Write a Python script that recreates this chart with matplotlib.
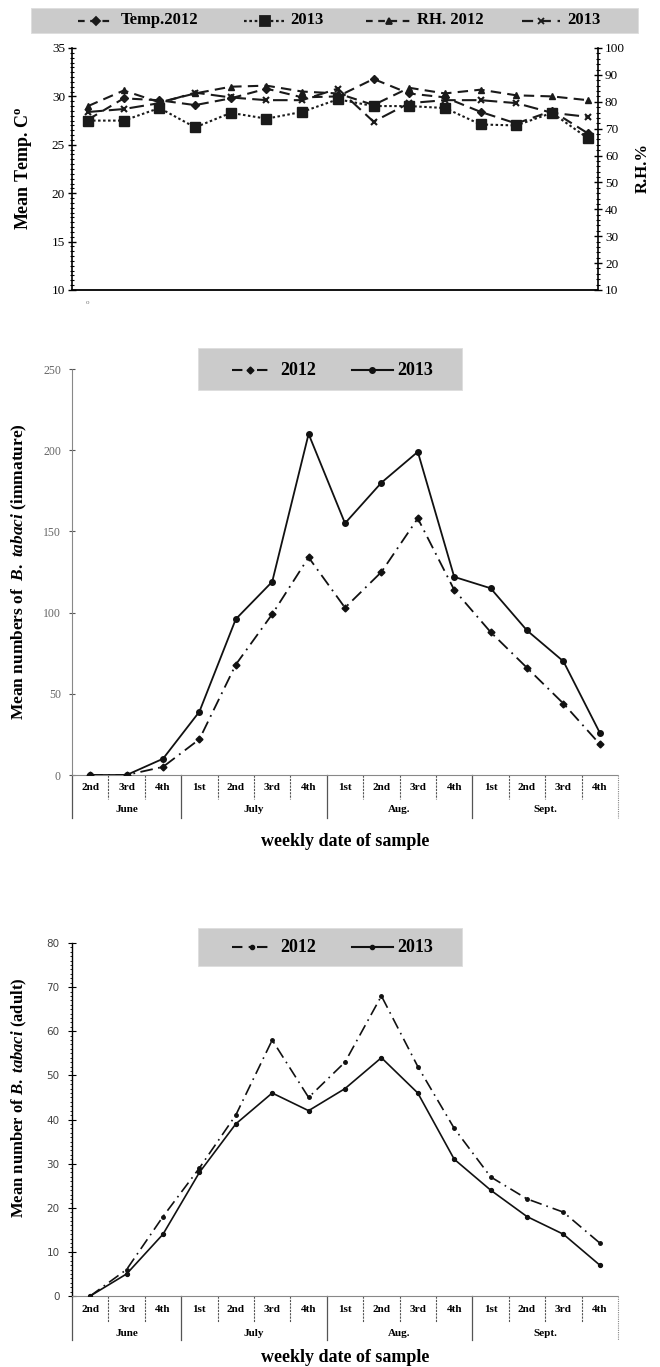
import matplotlib
matplotlib.use('Agg')
import matplotlib.pyplot as plt
from matplotlib.patches import Rectangle
from matplotlib.lines import Line2D
from matplotlib.ticker import MultipleLocator

# ---------------- data ----------------
weeks = ["2nd", "3rd", "4th", "1st", "2nd", "3rd", "4th", "1st", "2nd", "3rd", "4th",
         "1st", "2nd", "3rd", "4th"]
months = ["June", "July", "Aug.", "Sept."]
month_sizes = [3, 4, 4, 4]

temp_2012 = [27.6, 29.8, 29.6, 29.1, 29.8, 30.8, 29.9, 30.0, 31.8, 30.3, 29.9, 28.4, 27.2, 28.5, 26.2]
temp_2013 = [27.5, 27.5, 28.8, 26.8, 28.3, 27.7, 28.4, 29.7, 29.0, 29.0, 28.8, 27.1, 27.0, 28.3, 25.7]
rh_2012 = [78.4, 84.2, 79.8, 83.1, 85.6, 86.0, 83.8, 83.1, 78.8, 85.2, 83.1, 84.5, 82.4, 82.0, 80.6]
rh_2013 = [76.2, 77.3, 79.5, 83.4, 81.6, 80.6, 80.6, 84.9, 72.6, 79.5, 80.6, 80.6, 79.5, 75.9, 74.4]

imm_2012 = [0, 0, 5, 22, 68, 99, 134, 103, 125, 158, 114, 88, 66, 44, 19]
imm_2013 = [0, 0, 10, 39, 96, 119, 210, 155, 180, 199, 122, 115, 89, 70, 26]

adult_2012 = [0, 6, 18, 29, 41, 58, 45, 53, 68, 52, 38, 27, 22, 19, 12]
adult_2013 = [0, 5, 14, 28, 39, 46, 42, 47, 54, 46, 31, 24, 18, 14, 7]

# ---------------- setup ----------------
SERIF = ['Liberation Serif', 'DejaVu Serif']
plt.rcParams['font.family'] = SERIF
plt.rcParams['mathtext.fontset'] = 'custom'
plt.rcParams['mathtext.rm'] = 'Liberation Serif:bold'
plt.rcParams['mathtext.it'] = 'Liberation Serif:italic:bold'
plt.rcParams['mathtext.bf'] = 'Liberation Serif:bold'

W, H = 660, 1367
fig = plt.figure(figsize=(W / 100, H / 100), dpi=100)
fig.patch.set_facecolor('white')


def fx(px):
    return px / W


def fy(py):
    return 1 - py / H


def add_axes(left, right, top, bottom):
    return fig.add_axes([fx(left), fy(bottom), (right - left) / W, (bottom - top) / H])


x = list(range(len(weeks)))

# ================= TOP PANEL =================
ax1 = add_axes(72, 598, 48, 290)
ax1.set_xlim(-0.45, 14.29)
ax1.set_ylim(10, 35)
ax2 = ax1.twinx()
ax2.set_ylim(10, 100)

lc = '#1a1a1a'
ax1.plot(x, temp_2012, color=lc, lw=1.5, ls=(0, (5, 3)), marker='D', ms=4.5, zorder=4)
ax1.plot(x, temp_2013, color=lc, lw=1.5, ls=(0, (1.2, 1.2)), marker='s', ms=7.5, zorder=5)
ax2.plot(x, rh_2012, color=lc, lw=1.5, ls=(0, (5, 3)), marker='^', ms=5, zorder=4)
ax2.plot(x, rh_2013, color=lc, lw=1.5, ls=(0, (7, 3)), marker='x', ms=4, mew=1.5, zorder=4)

for a in (ax1, ax2):
    a.spines['top'].set_visible(False)
    a.tick_params(axis='x', which='both', bottom=False, labelbottom=False)
ax1.spines['right'].set_visible(False)
ax2.spines['left'].set_visible(False)
ax2.spines['bottom'].set_visible(False)
ax1.spines['bottom'].set_linestyle((0, (1, 1)))
ax1.spines['bottom'].set_linewidth(1.3)
ax1.spines['left'].set_linewidth(1.2)
ax2.spines['right'].set_linewidth(1.2)

ax1.set_yticks([10, 15, 20, 25, 30, 35])
ax1.yaxis.set_minor_locator(MultipleLocator(0.5))
ax1.tick_params(axis='y', which='major', direction='inout', length=6, width=1, labelsize=9.5, pad=2)
ax1.tick_params(axis='y', which='minor', direction='inout', length=3, width=0.8)
ax2.set_yticks(list(range(10, 101, 10)))
ax2.yaxis.set_minor_locator(MultipleLocator(2))
ax2.tick_params(axis='y', which='major', direction='inout', length=6, width=1, labelsize=9.5, pad=2)
ax2.tick_params(axis='y', which='minor', direction='inout', length=3, width=0.8)

fig.text(fx(24), fy(168), r"Mean Temp. C$^{\mathrm{o}}$", rotation=90, ha='center', va='center',
         fontsize=13, fontweight='bold')
fig.text(fx(643), fy(168), "R.H.%", rotation=90, ha='center', va='center',
         fontsize=12, fontweight='bold')
fig.text(fx(88), fy(302), "o", ha='center', va='center', fontsize=5, color='#777777')

# top legend
fig.patches.append(Rectangle((fx(31), fy(33)), (638 - 31) / W, (33 - 8) / H,
                             transform=fig.transFigure, facecolor='#cbcbcb', edgecolor='#dddddd',
                             lw=0.6, zorder=0))
ly = fy(20.5)
leg_items = [
    (78, 114, (0, (3, 2.5)), 'D', 4, "Temp.2012", 121),
    (244, 285, (0, (1.2, 1.2)), 's', 7, "2013", 290),
    (366, 411, (0, (3, 2.5)), '^', 4.5, "RH. 2012", 417),
    (522, 560, (0, (5, 3)), 'x', 4, "2013", 567),
]
for x0, x1, ls, mk, ms, lab, tx in leg_items:
    fig.lines.append(Line2D([fx(x0), fx(x1)], [ly, ly], transform=fig.transFigure,
                            color=lc, lw=1.6, ls=ls))
    fig.lines.append(Line2D([fx((x0 + x1) / 2)], [ly], transform=fig.transFigure,
                            color=lc, marker=mk, ms=ms, mew=1.3, ls='none'))
    fig.text(fx(tx), ly, lab, ha='left', va='center', fontsize=12, fontweight='bold')


# ================= table under x axis =================
def draw_table(ax, bottom_px, height_px, week_y, month_y, inner_end, sep_end, month_fs=8):
    tr = ax.get_xaxis_transform()

    def a(ypx):
        return (bottom_px - ypx) / height_px

    for i, w in enumerate(weeks):
        ax.text(i, a(week_y), w, transform=tr, ha='center', va='center', fontsize=8,
                fontweight='bold', clip_on=False)
    bounds = []
    c = 0
    for s in month_sizes:
        bounds.append(c - 0.5)
        c += s
    for i in range(len(weeks) - 1):
        xb = i + 0.5
        if (xb in bounds):
            continue
        ax.add_line(Line2D([xb, xb], [a(bottom_px), a(inner_end)], transform=tr, color='#555555',
                           lw=0.8, ls=(0, (2, 1)), clip_on=False))
    for xb in bounds:
        ax.add_line(Line2D([xb, xb], [a(bottom_px), a(sep_end)], transform=tr, color='#555555',
                           lw=0.9, clip_on=False))
    ax.add_line(Line2D([14.5, 14.5], [a(bottom_px), a(sep_end)], transform=tr, color='#888888',
                       lw=0.8, ls=(0, (1, 1)), clip_on=False))
    c = 0
    for m, s in zip(months, month_sizes):
        ax.text(c + (s - 1) / 2, a(month_y), m, transform=tr, ha='center', va='center',
                fontsize=month_fs, fontweight='bold', clip_on=False)
        c += s


# ================= MIDDLE PANEL =================
mb, mt = 775, 369
ax3 = add_axes(72, 618, mt, mb)
ax3.set_xlim(-0.5, 14.5)
ax3.set_ylim(0, 250)
ax3.plot(x, imm_2012, color='#111111', lw=1.3, ls=(0, (7, 3, 1, 3)), marker='D', ms=3.5, zorder=3)
ax3.plot(x, imm_2013, color='#111111', lw=1.3, ls='-', marker='o', ms=4, zorder=4)
for s in ('top', 'right'):
    ax3.spines[s].set_visible(False)
ax3.spines['left'].set_color('#888888')
ax3.spines['left'].set_linestyle((0, (1, 1)))
ax3.spines['bottom'].set_color('#888888')
ax3.spines['bottom'].set_linestyle((0, (1, 1)))
ax3.set_xticks([])
ax3.set_yticks([0, 50, 100, 150, 200, 250])
ax3.tick_params(axis='y', direction='inout', length=4, width=0.8, color='#555555',
                labelsize=8.5, labelcolor='#666666', pad=6)
draw_table(ax3, mb, mb - mt, 787, 810, 799, 818)
fig.text(fx(345), fy(841), "weekly date of sample", ha='center', va='center', fontsize=13,
         fontweight='bold')
fig.text(fx(19), fy(572), r"Mean numbers of  $\mathit{B.\ tabaci}$ (immature)", rotation=90,
         ha='center', va='center', fontsize=12.5, fontweight='bold')

# middle legend
fig.patches.append(Rectangle((fx(198), fy(390)), (462 - 198) / W, (390 - 348) / H,
                             transform=fig.transFigure, facecolor='#cbcbcb', edgecolor='#dddddd',
                             lw=0.6, zorder=0))
ly = fy(370)
fig.lines.append(Line2D([fx(232), fx(270)], [ly, ly], transform=fig.transFigure, color='#111111',
                        lw=1.5, ls=(0, (5, 3, 1, 3)), marker=None))
fig.lines.append(Line2D([fx(250)], [ly], transform=fig.transFigure, color='#111111', marker='D',
                        ms=3.5, ls='none'))
fig.text(fx(280), ly, "2012", ha='left', va='center', fontsize=13, fontweight='bold')
fig.lines.append(Line2D([fx(352), fx(393)], [ly, ly], transform=fig.transFigure, color='#111111',
                        lw=1.5, ls='-'))
fig.lines.append(Line2D([fx(372)], [ly], transform=fig.transFigure, color='#111111', marker='o',
                        ms=4, ls='none'))
fig.text(fx(397), ly, "2013", ha='left', va='center', fontsize=13, fontweight='bold')

# ================= BOTTOM PANEL =================
bb, bt = 1296, 943
ax4 = add_axes(72, 618, bt, bb)
ax4.set_xlim(-0.5, 14.5)
ax4.set_ylim(0, 80)
ax4.plot(x, adult_2012, color='#111111', lw=1.2, ls=(0, (7, 3, 1, 3)), marker='o', ms=2.5, zorder=3)
ax4.plot(x, adult_2013, color='#111111', lw=1.2, ls='-', marker='o', ms=2.8, zorder=4)
for s in ('top', 'right'):
    ax4.spines[s].set_visible(False)
ax4.spines['left'].set_linewidth(1.0)
ax4.spines['bottom'].set_color('#888888')
ax4.spines['bottom'].set_linestyle((0, (1, 1)))
ax4.set_xticks([])
ax4.set_yticks(list(range(0, 81, 10)))
ax4.yaxis.set_minor_locator(MultipleLocator(1))
ax4.tick_params(axis='y', which='major', direction='inout', length=6, width=0.8,
                labelsize=7.5, labelcolor='#444444', pad=6)
ax4.tick_params(axis='y', which='minor', direction='out', length=1.5, width=0.6)
for t in ax4.get_yticklabels():
    t.set_family('DejaVu Sans')
draw_table(ax4, bb, bb - bt, 1310, 1333, 1322, 1340)
fig.text(fx(345), fy(1357), "weekly date of sample", ha='center', va='center', fontsize=13,
         fontweight='bold')
fig.text(fx(19), fy(1098), r"Mean number of $\mathit{B.\ tabaci}$ (adult)", rotation=90,
         ha='center', va='center', fontsize=12, fontweight='bold')

# bottom legend
fig.patches.append(Rectangle((fx(198), fy(966)), (462 - 198) / W, (966 - 928) / H,
                             transform=fig.transFigure, facecolor='#cbcbcb', edgecolor='#dddddd',
                             lw=0.6, zorder=0))
ly = fy(947)
fig.lines.append(Line2D([fx(232), fx(270)], [ly, ly], transform=fig.transFigure, color='#111111',
                        lw=1.5, ls=(0, (5, 3, 1, 3))))
fig.lines.append(Line2D([fx(252)], [ly], transform=fig.transFigure, color='#111111', marker='o',
                        ms=3, ls='none'))
fig.text(fx(280), ly, "2012", ha='left', va='center', fontsize=13, fontweight='bold')
fig.lines.append(Line2D([fx(352), fx(393)], [ly, ly], transform=fig.transFigure, color='#111111',
                        lw=1.5, ls='-'))
fig.lines.append(Line2D([fx(372)], [ly], transform=fig.transFigure, color='#111111', marker='o',
                        ms=3, ls='none'))
fig.text(fx(397), ly, "2013", ha='left', va='center', fontsize=13, fontweight='bold')

fig.savefig('out.png', dpi=100)
